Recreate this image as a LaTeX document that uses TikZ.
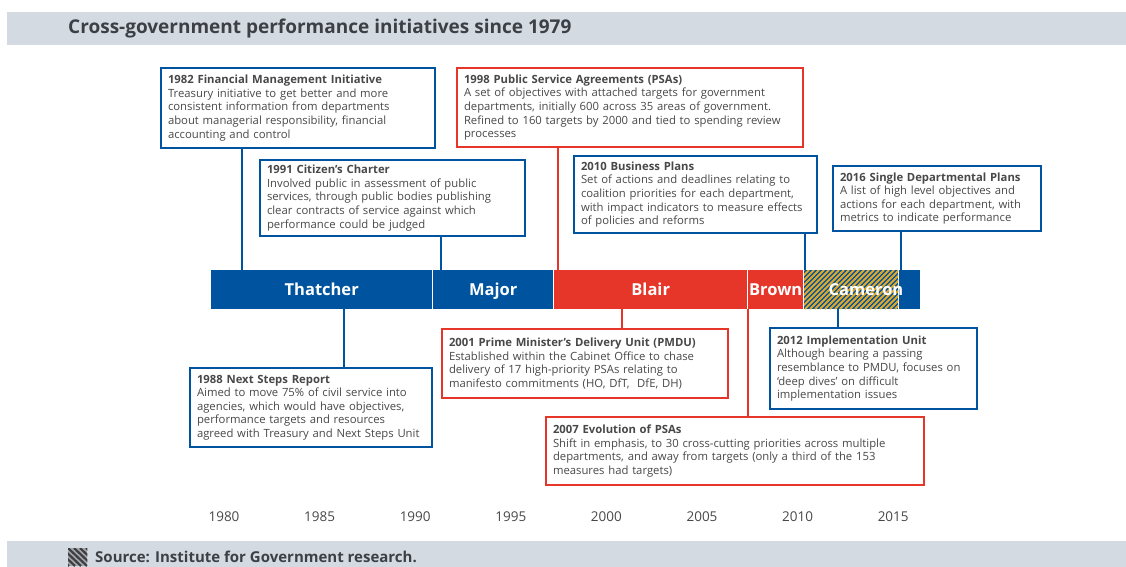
\documentclass[tikz,border=0pt]{standalone}
\usepackage{fontspec}
\setmainfont{Open Sans}
\usepackage{xcolor}
\usetikzlibrary{positioning}
\definecolor{govBlue}{RGB}{0,84,159}
\definecolor{govRed}{RGB}{230,53,41}
\definecolor{barGray}{RGB}{212,218,225}
\definecolor{hatchYellow}{RGB}{226,168,38}
\definecolor{textGray}{RGB}{72,72,72}
\definecolor{titleGray}{RGB}{60,64,70}

\begin{document}
\begin{tikzpicture}[x=1pt, y=-1pt,
    evbox/.style={draw, line width=2pt, fill=white, anchor=north west, align=left, inner xsep=7pt, inner ysep=0pt,
        font=\fontsize{11.3}{13.6}\selectfont, text=textGray},
    bluebox/.style={evbox, draw=govBlue},
    redbox/.style={evbox, draw=govRed},
    seg/.style={anchor=north west, inner sep=0pt, minimum height=39pt, text height=13pt, text depth=2pt,
        text=white, font=\fontsize{16.5}{18}\selectfont\bfseries},
    year/.style={font=\fontsize{13.5}{16}\selectfont, text=textGray},
    blueline/.style={line width=2pt, govBlue},
    redline/.style={line width=2pt, govRed}
]
\useasboundingbox (0,0) rectangle (1126,567);

% header and footer bars
\fill[barGray] (7,12) rectangle (1126,45);
\node[anchor=west, inner sep=0pt, text=titleGray, font=\fontsize{19}{22}\selectfont\bfseries] (title) at (68,28.5) {Cross-government performance initiatives since 1979};
\fill[barGray] (7,541) rectangle (1126,567);
\node[anchor=north west, inner sep=0pt, minimum width=19pt, minimum height=18pt, fill=gray!70] (icon) at (68,548) {};
\begin{scope}
  \clip (icon.south west) rectangle (icon.north east);
  \foreach \i in {-24,-18,...,24}
    \draw[line width=2.2pt, titleGray] (68+\i,548) -- (87+\i,566);
\end{scope}
\node[anchor=west, inner sep=0pt, text=titleGray, font=\fontsize{15}{18}\selectfont\bfseries] (source) at (95,557) {Source: Institute for Government research.};

% timeline bar
\node[seg, fill=govBlue, minimum width=221pt] (thatcher) at (211,270) {Thatcher};
\node[seg, fill=govBlue, minimum width=120pt] (major) at (433,270) {Major};
\node[seg, fill=govRed, minimum width=193pt] (blair) at (554,270) {Blair};
\node[seg, fill=govRed, minimum width=55pt] (brown) at (748,270) {Brown};
\node[seg, fill=govBlue, minimum width=94pt] (cameron) at (804,270) {};
\begin{scope}
  \clip (cameron.south west) rectangle (cameron.north east);
  \foreach \i in {-44,-39,...,96}
    \draw[line width=2pt, hatchYellow] (804+\i,309) -- (843+\i,270);
\end{scope}
\node[seg, fill=govBlue, minimum width=21pt] (may) at (899,270) {};
\node[seg, anchor=north] (cameronlbl) at (866,270) {Cameron};

% year axis
\foreach \y [count=\k from 0] in {1980,1985,...,2015}
  \node[year] (y\y) at (224+95.6*\k,517) {\y};

% events above
\node[bluebox, text width=260pt, minimum height=80pt] (fmi) at (160,67) {\textbf{1982 Financial Management Initiative}\\Treasury initiative to get better and more\\consistent information from departments\\about managerial responsibility, financial\\accounting and control};
\node[bluebox, text width=251pt, minimum height=76pt] (charter) at (259,159) {\textbf{1991 Citizen’s Charter}\\Involved public in assessment of public\\services, through public bodies publishing\\clear contracts of service against which\\performance could be judged};
\node[redbox, text width=332pt, minimum height=79pt] (psa) at (456,67) {\textbf{1998 Public Service Agreements (PSAs)}\\A set of objectives with attached targets for government\\departments, initially 600 across 35 areas of government.\\Refined to 160 targets by 2000 and tied to spending review\\processes};
\node[bluebox, text width=229pt, minimum height=77pt] (bizplans) at (573,155) {\textbf{2010 Business Plans}\\Set of actions and deadlines relating to\\coalition priorities for each department,\\with impact indicators to measure effects\\of policies and reforms};
\node[bluebox, text width=194pt, minimum height=65pt] (sdp) at (832,165) {\textbf{2016 Single Departmental Plans}\\A list of high level objectives and\\actions for each department, with\\metrics to indicate performance};

% events below
\node[bluebox, text width=228pt, minimum height=79pt] (nextsteps) at (189,367) {\textbf{1988 Next Steps Report}\\Aimed to move 75\% of civil service into\\agencies, which would have objectives,\\performance targets and resources\\agreed with Treasury and Next Steps Unit};
\node[redbox, text width=272pt, minimum height=69pt] (pmdu) at (441,328) {\textbf{2001 Prime Minister’s Delivery Unit (PMDU)}\\Established within the Cabinet Office to chase\\delivery of 17 high-priority PSAs relating to\\manifesto commitments (HO, DfT,~~DfE, DH)};
\node[redbox, text width=364pt, minimum height=68pt] (evol) at (545,416) {\textbf{2007 Evolution of PSAs}\\Shift in emphasis, to 30 cross-cutting priorities across multiple\\departments, and away from targets (only a third of the 153\\measures had targets)};
\node[bluebox, text width=193pt, minimum height=81pt] (impl) at (769,327) {\textbf{2012 Implementation Unit}\\Although bearing a passing\\resemblance to PMDU, focuses on\\‘deep dives’ on difficult\\implementation issues};

% connectors
\draw[blueline] (fmi.south -| 242,0) -- (thatcher.north -| 242,0);
\draw[blueline] (charter.south -| 441,0) -- (major.north -| 441,0);
\draw[redline] (psa.south -| 558,0) -- (blair.north -| 558,0);
\draw[blueline] (bizplans.south -| 805,0) -- (cameron.north -| 805,0);
\draw[blueline] (sdp.south -| 901,0) -- (may.north -| 901,0);
\draw[blueline] (thatcher.south -| 344,0) -- (nextsteps.north -| 344,0);
\draw[redline] (blair.south -| 622,0) -- (pmdu.north -| 622,0);
\draw[redline] (brown.south -| 748,0) -- (evol.north -| 748,0);
\draw[blueline] (cameron.south -| 838,0) -- (impl.north -| 838,0);
\end{tikzpicture}
\end{document}
